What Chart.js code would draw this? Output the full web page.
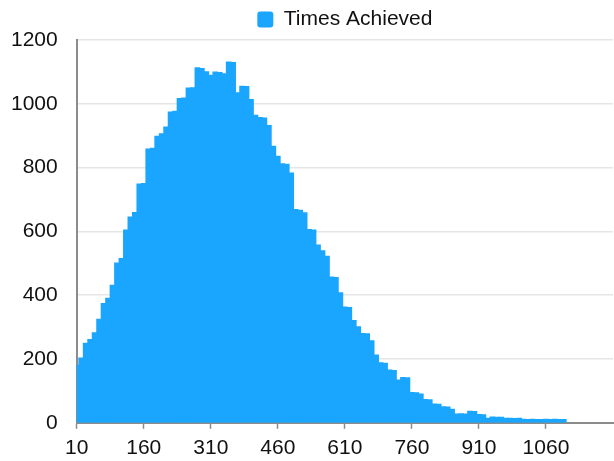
<!DOCTYPE html>
<html>
<head>
<meta charset="utf-8">
<script src="https://cdn.jsdelivr.net/npm/chart.js@4"></script>
<style>
  html, body { margin: 0; padding: 0; background: #fff; overflow: hidden; }
  #wrap { width: 620px; height: 461px; position: relative; }
</style>
</head>
<body>
<div id="wrap"><canvas id="chart"></canvas></div>
<script>
// bins of 10, label is the bin start
const binLabels = [];
for (let v = 10; v <= 1210; v += 10) binLabels.push(String(v));

const timesAchieved = [
  180, 203, 249, 261, 282, 324, 374, 390, 431, 501,
  515, 604, 645, 659, 748, 750, 858, 860, 898, 906,
  927, 974, 976, 1016, 1018, 1049, 1050, 1113, 1110, 1100,
  1089, 1099, 1098, 1094, 1131, 1129, 1034, 1055, 1054, 1013,
  964, 957, 955, 932, 867, 835, 812, 810, 783, 668,
  666, 658, 606, 604, 557, 539, 522, 457, 455, 407,
  363, 361, 320, 301, 280, 279, 257, 212, 188, 186,
  165, 164, 134, 142, 141, 95, 94, 90, 73, 72,
  59, 58, 50, 49, 42, 27, 28, 27, 36, 35,
  26, 25, 14, 18, 17, 17, 14, 14, 13, 14,
  11, 10, 11, 10, 10, 11, 10, 11, 10, 10
];

const yTicks = [0, 200, 400, 600, 800, 1000, 1200];

const barColor = '#1aa6ff';
const axisColor = '#8c8c8c';
const fontFamily = "'Liberation Sans', Helvetica, Arial, sans-serif";

// only every 15th bin gets a label and a tick mark (last bin left bare)
const showTick = (i) => i % 15 === 0 && i < binLabels.length - 1;

const ctx = document.getElementById('chart').getContext('2d');

new Chart(ctx, {
    type: 'bar',
    data: {
        labels: binLabels,
        datasets: [{
            label: 'Times Achieved',
            data: timesAchieved,
            backgroundColor: barColor,
            borderColor: barColor,
            borderWidth: 0,
            inflateAmount: 0.6,
            barPercentage: 1.0,
            categoryPercentage: 1.0,
            clip: 0
        }]
    },
    options: {
        responsive: true,
        maintainAspectRatio: false,
        animation: false,
        layout: { padding: { left: -8, right: 0, top: 0, bottom: -7 } },
        plugins: {
            legend: {
                display: true,
                position: 'top',
                fullSize: false,
                labels: {
                    color: '#111',
                    font: { family: fontFamily, size: 21 },
                    boxWidth: 16,
                    boxHeight: 16,
                    useBorderRadius: true,
                    borderRadius: 3,
                    padding: 9
                }
            },
            tooltip: { enabled: false }
        },
        scales: {
            x: {
                offset: false,
                grid: {
                    offset: false,
                    drawOnChartArea: false,
                    drawTicks: true,
                    tickLength: 6,
                    tickWidth: 1.5,
                    tickColor: (c) => (showTick(c.index) ? axisColor : 'rgba(0,0,0,0)')
                },
                border: { color: axisColor, width: 2 },
                ticks: {
                    autoSkip: false,
                    maxRotation: 0,
                    padding: 7,
                    color: '#111',
                    font: { family: fontFamily, size: 21 },
                    callback: function (val, i) {
                        return showTick(i) ? binLabels[i] : '';
                    }
                }
            },
            y: {
                min: 0,
                max: 1200,
                afterBuildTicks: (axis) => {
                    axis.ticks = yTicks.map(v => ({ value: v }));
                },
                grid: {
                    color: '#e6e6e6',
                    lineWidth: 1.5,
                    drawTicks: false
                },
                border: { color: axisColor, width: 2 },
                ticks: {
                    padding: 19,
                    color: '#111',
                    font: { family: fontFamily, size: 21 },
                    callback: (v) => String(v)
                }
            }
        }
    }
});
</script>
</body>
</html>
